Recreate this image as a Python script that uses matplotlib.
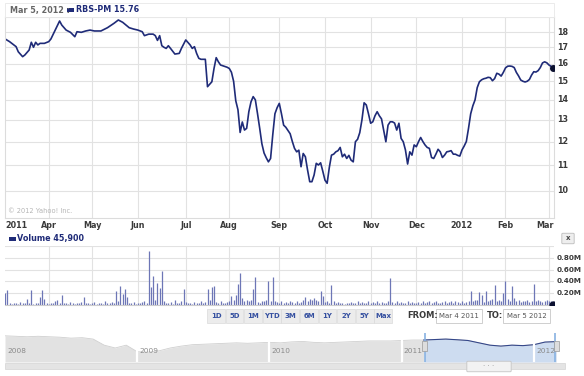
import numpy as np
import matplotlib
matplotlib.use("Agg")
import matplotlib.pyplot as plt
from matplotlib.patches import Rectangle, FancyBboxPatch
from matplotlib.ticker import NullLocator

W, H = 584, 376

# trading sessions counted from Mar 4 2011 (= 0) to Mar 5 2012 (= 252)
session = [0, 2, 5, 6, 8, 9, 11, 12, 13, 14, 15, 16, 18, 20, 21, 23, 25, 26, 28, 30,
           32, 33, 35, 37, 39, 41, 44, 47, 50, 52, 54, 57, 59, 61, 63, 64, 66, 68, 69, 70,
           71, 72, 73, 74, 75, 76, 78, 80, 81, 83, 85, 86, 87, 88, 89, 90, 92, 93, 95, 96,
           97, 98, 99, 102, 103, 104, 105, 106, 107, 108, 109, 110, 111, 112, 113, 114, 115, 116, 117, 118,
           119, 120, 121, 122, 123, 124, 125, 126, 127, 128, 129, 130, 131, 132, 133, 134, 135, 136, 137, 138,
           139, 140, 141, 142, 143, 144, 145, 146, 147, 148, 149, 150, 151, 152, 153, 154, 155, 156, 157, 158,
           159, 160, 161, 162, 163, 164, 165, 166, 167, 168, 169, 170, 171, 172, 173, 174, 175, 176, 177, 178,
           179, 180, 181, 182, 183, 184, 185, 186, 187, 188, 189, 190, 191, 192, 193, 194, 195, 196, 197, 198,
           199, 200, 201, 202, 203, 204, 205, 206, 207, 208, 209, 210, 211, 212, 213, 214, 215, 216, 217, 218,
           219, 220, 221, 222, 223, 224, 225, 226, 227, 228, 229, 230, 231, 232, 233, 234, 235, 236, 237, 238,
           239, 240, 241, 242, 243, 244, 245, 246, 247, 248, 249, 250, 251, 252]
price = [17.54, 17.37, 17.05, 16.73, 16.43, 16.53, 16.84, 17.33, 17.01, 17.33, 17.16, 17.26, 17.26, 17.37, 17.54, 18.13, 18.75, 18.47, 18.13, 17.98,
         17.69, 18.02, 17.98, 18.07, 18.13, 18.07, 18.07, 18.29, 18.59, 18.82, 18.66, 18.29, 18.20, 18.13, 18.02, 17.76, 17.86, 17.86, 17.76, 17.45,
         17.76, 17.11, 17.01, 16.94, 17.11, 16.94, 16.59, 16.63, 16.94, 17.48, 17.16, 16.94, 17.05, 16.63, 16.33, 16.27, 16.27, 14.70, 14.97, 15.73,
         16.37, 16.12, 15.93, 15.80, 15.73, 15.51, 15.00, 13.95, 13.50, 12.41, 12.90, 12.52, 12.60, 13.40, 13.90, 14.17, 14.00, 13.30, 12.60, 11.90,
         11.50, 11.30, 11.13, 11.27, 12.30, 13.30, 13.60, 13.82, 13.30, 12.75, 12.65, 12.50, 12.35, 12.00, 11.70, 11.55, 11.62, 10.93, 11.48, 11.34,
         10.80, 10.34, 10.34, 10.60, 11.07, 11.00, 11.09, 10.75, 10.40, 10.28, 10.90, 11.41, 11.45, 11.55, 11.60, 11.74, 11.34, 11.45, 11.27, 11.40,
         11.20, 11.13, 11.99, 12.10, 12.40, 13.00, 13.85, 13.74, 13.30, 12.84, 12.91, 13.20, 13.40, 13.20, 13.05, 12.50, 11.99, 12.75, 12.91, 12.91,
         12.85, 12.52, 12.84, 12.14, 11.99, 11.63, 11.04, 11.55, 11.41, 11.85, 11.77, 11.99, 12.18, 12.00, 11.85, 11.74, 11.70, 11.31, 11.27, 11.45,
         11.66, 11.55, 11.31, 11.41, 11.55, 11.57, 11.60, 11.45, 11.45, 11.40, 11.37, 11.63, 11.80, 12.00, 12.60, 13.30, 13.70, 14.00, 14.65, 14.97,
         15.08, 15.14, 15.17, 15.22, 15.20, 15.03, 15.15, 15.45, 15.40, 15.29, 15.50, 15.76, 15.86, 15.87, 15.85, 15.78, 15.50, 15.30, 15.07, 15.00,
         14.96, 15.00, 15.10, 15.35, 15.54, 15.52, 15.60, 15.78, 16.05, 16.12, 16.06, 15.93, 15.85, 15.76]

# daily volume in millions, one value per session (Mar 2011 .. Mar 2012)
volume_m = [0.21, 0.26, 0.03, 0.02, 0.04, 0.03, 0.02, 0.05, 0.03, 0.04, 0.11, 0.03, 0.26, 0.02, 0.03, 0.04, 0.14, 0.26, 0.11, 0.03,
            0.02, 0.04, 0.03, 0.06, 0.09, 0.03, 0.17, 0.04, 0.03, 0.02, 0.05, 0.03, 0.02, 0.04, 0.03, 0.05, 0.14, 0.03, 0.04, 0.02,
            0.03, 0.05, 0.02, 0.04, 0.03, 0.02, 0.06, 0.03, 0.04, 0.05, 0.03, 0.23, 0.06, 0.32, 0.19, 0.27, 0.14, 0.04, 0.03, 0.05, 0.02,
            0.04, 0.03, 0.05, 0.06, 0.03, 0.91, 0.31, 0.50, 0.08, 0.37, 0.28, 0.57, 0.06, 0.04, 0.03, 0.05, 0.02, 0.08, 0.03, 0.04, 0.06, 0.27,
            0.05, 0.03, 0.04, 0.02, 0.05, 0.03, 0.04, 0.06, 0.03, 0.05, 0.27, 0.08, 0.30, 0.33, 0.05, 0.03, 0.06, 0.04, 0.03, 0.05,
            0.06, 0.15, 0.08, 0.17, 0.36, 0.55, 0.12, 0.07, 0.09, 0.06, 0.08, 0.27, 0.47, 0.05, 0.04, 0.07, 0.06, 0.09, 0.41, 0.06, 0.48, 0.07, 0.05,
            0.04, 0.06, 0.03, 0.05, 0.04, 0.07, 0.05, 0.03, 0.06, 0.04, 0.05, 0.08, 0.13, 0.07, 0.10, 0.09, 0.12, 0.08, 0.06, 0.24, 0.15,
            0.05, 0.07, 0.04, 0.34, 0.06, 0.03, 0.05, 0.04, 0.03, 0.02, 0.04, 0.03, 0.05, 0.04, 0.03, 0.06, 0.04, 0.05, 0.03, 0.04, 0.06,
            0.04, 0.05, 0.03, 0.06, 0.04, 0.05, 0.03, 0.04, 0.06, 0.46, 0.05, 0.04, 0.06, 0.03, 0.05, 0.04, 0.03, 0.06, 0.04, 0.05, 0.04,
            0.03, 0.05, 0.04, 0.06, 0.03, 0.05, 0.07, 0.04, 0.05, 0.06, 0.03, 0.04, 0.05, 0.06, 0.04, 0.05, 0.07, 0.04, 0.06, 0.05, 0.04,
            0.06, 0.04, 0.05, 0.07, 0.24, 0.06, 0.09, 0.08, 0.22, 0.17, 0.05, 0.24, 0.06, 0.08, 0.10, 0.34, 0.07, 0.09, 0.06, 0.20,
            0.41, 0.10, 0.07, 0.32, 0.12, 0.06, 0.09, 0.05, 0.07, 0.06, 0.08, 0.05, 0.07, 0.35, 0.06, 0.09, 0.07, 0.05, 0.06, 0.08,
            0.07, 0.06, 0.046]

month_start = [20, 40, 61, 83, 103, 126, 147, 168, 189, 210, 230, 250]
month_label = ["Apr", "May", "Jun", "Jul", "Aug", "Sep", "Oct", "Nov", "Dec", "2012", "Feb", "Mar"]
price_ticks = [10, 11, 12, 13, 14, 15, 16, 17, 18]
vol_ticks = [0.2, 0.4, 0.6, 0.8]
vol_labels = ["0.20M", "0.40M", "0.60M", "0.80M"]
ranges = ["1D", "5D", "1M", "YTD", "3M", "6M", "1Y", "2Y", "5Y", "Max"]

# navigator: monthly price, Jan 2008 .. Mar 2012
nav_price = [22, 21.5, 21, 21.5, 21, 20.5, 19.5, 20, 18.5, 12, 9, 12,
             5, 4.5, 6, 9, 11, 12.5, 13, 13.5, 14, 14.5, 14, 14.5,
             15, 14.5, 15.5, 16, 15, 14.5, 15, 15.5, 16, 16.5, 16.5, 16.5,
             17, 17.5, 17.5, 18, 18.5, 17.8, 17, 14.5, 12, 11, 12, 11.5,
             12.5, 15.3, 15.8]
nav_years = [2008, 2009, 2010, 2011, 2012]

NAVY = "#1f2b78"
GRID = "#e2e2e2"
TXT = "#3a3a3a"


def fbox(l, t, r, b):
    return [l / W, 1 - b / H, (r - l) / W, (b - t) / H]


def rect_px(fig, l, t, r, b, **kw):
    fig.add_artist(Rectangle((l / W, 1 - b / H), (r - l) / W, (b - t) / H,
                             transform=fig.transFigure, **kw))


def ftext(fig, x, y, s, **kw):
    fig.text(x / W, 1 - y / H, s, **kw)


fig = plt.figure(figsize=(W / 100, H / 100), dpi=100)
fig.patch.set_facecolor("white")

# header strip
rect_px(fig, 5, 3, 554, 17, facecolor="white", edgecolor="#e8e8e8", lw=0.6)
ftext(fig, 10, 10, "Mar 5, 2012 :", fontsize=5.8, color="#666666", fontweight="bold", va="center")
rect_px(fig, 67, 8, 74, 12, facecolor=NAVY, edgecolor="none")
ftext(fig, 75.5, 10, "RBS-PM 15.76", fontsize=5.8, color=NAVY, fontweight="bold", va="center")

# price panel
ax = fig.add_axes(fbox(5, 17, 554, 218))
ax.set_yscale("log")
ax.set_ylim(9.04, 19.03)
ax.set_xlim(-0.1, 252.3)
for m in month_start:
    ax.axvline(m, color=GRID, lw=0.8, zorder=0)
for t in price_ticks:
    ax.axhline(t, color=GRID, lw=0.8, zorder=0)
ax.plot(session, price, color=NAVY, lw=1.2, solid_joinstyle="round")
ax.plot(session[-1], price[-1], "o", ms=4, color="#0b1030", zorder=5)
ax.xaxis.set_major_locator(NullLocator())
ax.yaxis.set_major_locator(NullLocator())
ax.yaxis.set_minor_locator(NullLocator())
for sp in ax.spines.values():
    sp.set_color("#dcdcdc")
    sp.set_linewidth(0.8)
for t in price_ticks:
    ax.text(1.005, t, str(t), transform=ax.get_yaxis_transform(), ha="left", va="center",
            fontsize=5.8, fontweight="bold", color=TXT)
ax.text(0, -0.037, "2011", transform=ax.get_xaxis_transform(), ha="left", va="center",
        fontsize=5.8, fontweight="bold", color=TXT)
for m, lab in zip(month_start, month_label):
    ha = "right" if lab == "Mar" else "center"
    xx = 252.3 if lab == "Mar" else m
    ax.text(xx, -0.037, lab, transform=ax.get_xaxis_transform(), ha=ha, va="center",
            fontsize=5.8, fontweight="bold", color=TXT)
ax.text(0.006, 0.025, "\u00a9 2012 Yahoo! Inc.", transform=ax.transAxes, fontsize=4.8, color="#b5b5b5")

# volume panel
rect_px(fig, 9, 237, 16, 241, facecolor=NAVY, edgecolor="none")
ftext(fig, 17, 239, "Volume 45,900", fontsize=5.8, color=NAVY, fontweight="bold", va="center")
fig.add_artist(FancyBboxPatch((563 / W, 1 - 243 / H), 10 / W, 9 / H, boxstyle="round,pad=0.002",
                              transform=fig.transFigure, facecolor="#eeeeee", edgecolor="#bbbbbb", lw=0.6))
ftext(fig, 568, 238.5, "x", fontsize=5, color="#444444", ha="center", va="center", fontweight="bold")

vax = fig.add_axes(fbox(5, 246, 554, 305))
vax.set_xlim(-0.1, 252.3)
vax.set_ylim(0, 1.0)
for m in month_start:
    vax.axvline(m, color=GRID, lw=0.8, zorder=0)
for t in vol_ticks + [1.0]:
    vax.axhline(t, color=GRID, lw=0.8, zorder=0)
vax.vlines(np.arange(len(volume_m)), 0, volume_m, color="#6d76b6", lw=0.9)
vax.plot(len(volume_m) - 1, 0, "o", ms=5, color="#0b1030", zorder=5)
vax.xaxis.set_major_locator(NullLocator())
vax.yaxis.set_major_locator(NullLocator())
for k, sp in vax.spines.items():
    sp.set_visible(k == "bottom")
    sp.set_color("#cccccc")
for t, lab in zip(vol_ticks, vol_labels):
    vax.text(1.004, t, lab, transform=vax.get_yaxis_transform(), ha="left", va="center",
             fontsize=5.2, fontweight="bold", color=TXT)

# range buttons and date boxes
for i, r in enumerate(ranges):
    cx = 216 + i * 18.6
    rect_px(fig, cx - 9, 309, cx + 8.8, 323, facecolor="#ececec", edgecolor="#dadada", lw=0.5)
    ftext(fig, cx, 316, r, fontsize=5, color="#3550a0", fontweight="bold", ha="center", va="center")
ftext(fig, 407, 316, "FROM:", fontsize=6, color=TXT, fontweight="bold", va="center")
rect_px(fig, 436, 309, 482, 323, facecolor="white", edgecolor="#c8c8c8", lw=0.6)
ftext(fig, 459, 316, "Mar 4 2011", fontsize=5, color="#555555", ha="center", va="center")
ftext(fig, 487, 316, "TO:", fontsize=6, color=TXT, fontweight="bold", va="center")
rect_px(fig, 503, 309, 550, 323, facecolor="white", edgecolor="#c8c8c8", lw=0.6)
ftext(fig, 526.5, 316, "Mar 5 2012", fontsize=5, color="#555555", ha="center", va="center")

# navigator
nav_x = 2008 + np.arange(len(nav_price)) / 12.0
nav_p = np.array(nav_price)
sel_start = 2008 + 38 / 12.0 + 3 / 365.0
nax = fig.add_axes(fbox(5, 333, 556, 362))
nax.set_xlim(2008, nav_x[-1])
nax.set_ylim(-6, 25)
nax.fill_between(nav_x, -6, nav_p, color="#e2e2e2", lw=0)
nax.plot(nav_x, nav_p, color="#cfcfcf", lw=0.6)
sel = nav_x >= 2011.0
nax.fill_between(nav_x[sel], -6, nav_p[sel], where=nav_x[sel] >= sel_start - 0.09,
                 color="#cddcf0", lw=0)
nax.axvspan(2011.0, sel_start, color="white", lw=0)
nax.fill_between(nav_x[sel], -6, nav_p[sel], where=nav_x[sel] < sel_start, color="#e2e2e2", lw=0)
nax.plot(nav_x[nav_x >= sel_start - 0.09], nav_p[nav_x >= sel_start - 0.09], color="#34478a", lw=0.8)
for yr in nav_years[1:]:
    nax.axvline(yr, color="white", lw=1.6)
for yr in nav_years:
    nax.text(yr + 0.015, 0.3, str(yr), transform=nax.get_xaxis_transform(), fontsize=5.3,
             color="#8a8a8a", zorder=7)
for xb in (sel_start, nav_x[-1] - 0.005):
    nax.axvline(xb, color="#88b2e2", lw=1.2)
nax.set_axis_off()
for xh in (sel_start, nav_x[-1] + 0.005):
    nax.add_patch(Rectangle((xh - 0.018, 6), 0.036, 10, facecolor="#dddddd", edgecolor="#999999",
                            lw=0.5, zorder=6, clip_on=False))

# scrollbar
rect_px(fig, 5, 363, 565, 369, facecolor="#e4e4e4", edgecolor="#d4d4d4", lw=0.5)
fig.add_artist(FancyBboxPatch((468 / W, 1 - 371 / H), 42 / W, 9 / H, boxstyle="round,pad=0.002",
                              transform=fig.transFigure, facecolor="#f2f2f2", edgecolor="#c4c4c4", lw=0.6))
ftext(fig, 489, 366, "\u00b7 \u00b7 \u00b7", fontsize=5, color="#999999", ha="center", va="center")

fig.savefig("out.png", dpi=100)
